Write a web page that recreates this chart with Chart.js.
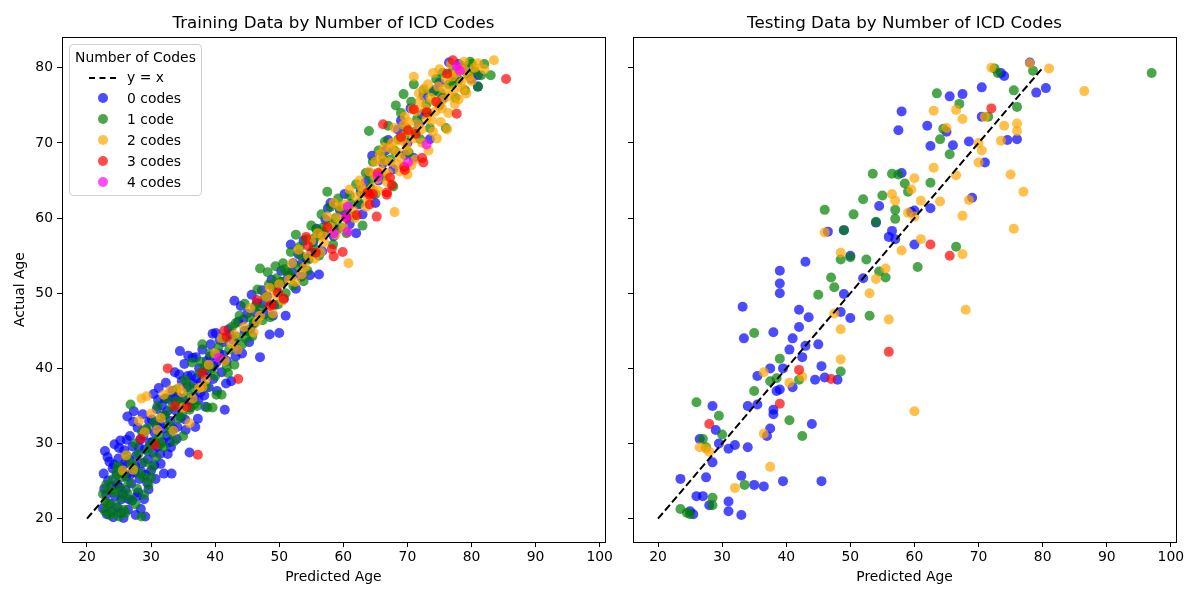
<!DOCTYPE html>
<html>
<head>
<meta charset="utf-8">
<script src="https://cdn.jsdelivr.net/npm/chart.js@4.4.1/dist/chart.umd.min.js"></script>
<style>
  body { margin: 0; background: #fff; width: 1200px; height: 600px; position: relative; overflow: hidden; font-family: "DejaVu Sans", sans-serif; color: #000; }
  .panel { position: absolute; top: 0; height: 600px; }
  #leftBox { left: 0; width: 615px; }
  #rightBox { left: 615px; width: 585px; }
  .title { position: absolute; top: 11px; font-size: 16.7px; line-height: 22px; text-align: center; white-space: nowrap; }
  .legend { position: absolute; left: 69px; top: 44px; width: 131px; height: 150px; border: 1px solid #d0d0d0; border-radius: 4px; background: rgba(255,255,255,0.8); font-size: 13.9px; }
  .legend div { position: absolute; white-space: nowrap; line-height: 16px; }
  .dot { width: 10px; height: 10px; border-radius: 50%; }
  .dash { height: 0; width: 27px; border-top: 2px dashed #000; }
</style>
</head>
<body>
<div class="panel" id="leftBox"><canvas id="trainChart" width="615" height="600"></canvas></div>
<div class="panel" id="rightBox"><canvas id="testChart" width="585" height="600"></canvas></div>
<div class="title" style="left:62px;width:543px">Training Data by Number of ICD Codes</div>
<div class="title" style="left:633px;width:543px">Testing Data by Number of ICD Codes</div>
<div class="legend" id="legend"></div>

<script>
// axes
const xTicks = [20, 30, 40, 50, 60, 70, 80, 90, 100];
const yTicks = [20, 30, 40, 50, 60, 70, 80];
const identityLine = [[20, 20], [80, 80]];

const codeLabels = ['0 codes', '1 code', '2 codes', '3 codes', '4 codes'];
const codeColors = ['rgba(0,0,255,0.7)', 'rgba(0,128,0,0.7)', 'rgba(255,165,0,0.7)', 'rgba(255,0,0,0.7)', 'rgba(255,0,255,0.7)'];

// training set, [predicted, actual]
const trainZero = [
  [22.5,21.4],[22.6,26.0],[22.8,29.0],[23.0,23.2],[23.1,20.6],[23.3,25.1],[23.5,27.6],[23.6,22.0],[23.8,24.3],[24.0,26.7],
  [24.1,20.2],[24.3,29.9],[24.4,23.0],[24.6,25.8],[24.8,21.5],[24.9,28.0],[25.1,24.2],[25.2,30.4],[25.4,22.6],[25.5,26.9],
  [25.7,20.1],[25.8,29.1],[26.0,23.8],[26.1,25.6],[26.3,33.6],[26.4,21.2],[26.6,27.8],[26.7,31.0],[26.9,24.7],[27.0,22.4],
  [27.1,29.6],[27.3,34.3],[27.4,26.2],[27.6,20.5],[27.7,28.4],[27.9,32.1],[28.0,23.5],[28.2,25.3],[28.3,30.5],[28.4,21.3],
  [28.6,27.4],[28.7,33.9],[28.9,22.6],[29.0,29.2],[29.2,25.8],[29.3,31.8],[29.5,27.9],[29.6,23.9],[29.8,30.1],[30.0,26.4],
  [30.1,33.2],[30.3,28.8],[30.4,36.6],[30.6,31.4],[30.7,25.3],[30.9,34.6],[31.0,29.6],[31.2,37.4],[31.4,32.6],[31.5,27.3],
  [31.7,35.1],[31.8,30.2],[32.0,26.0],[32.1,33.8],[32.3,38.1],[32.5,31.0],[32.6,28.6],[32.8,35.9],[33.0,33.0],[33.1,29.5],
  [33.3,37.0],[33.5,31.9],[33.7,39.5],[33.8,34.4],[34.0,30.6],[34.2,36.2],[34.5,42.3],[34.6,33.5],[34.8,38.3],[35.0,35.2],
  [35.2,40.6],[35.4,31.8],[35.6,37.5],[35.8,41.7],[36.0,28.8],[36.1,34.8],[36.3,39.1],[36.5,41.4],[36.7,36.2],[36.9,32.2],
  [37.1,38.7],[37.3,33.3],[37.5,40.0],[37.7,36.8],[38.0,42.5],[38.2,39.0],[38.5,34.9],[38.7,41.0],[39.0,37.5],[39.3,43.2],
  [39.6,44.6],[39.8,40.3],[40.1,44.7],[40.3,37.0],[40.6,42.0],[41.0,39.5],[41.3,43.5],[41.5,34.5],[41.8,41.0],[42.1,45.2],
  [42.5,38.3],[42.8,43.8],[43.0,49.0],[43.2,41.6],[43.6,46.2],[44.0,48.3],[44.2,42.0],[44.6,45.0],[45.0,47.3],[45.3,43.5],
  [45.7,49.8],[46.1,46.0],[46.5,48.7],[47.0,41.5],[47.3,50.4],[47.7,47.2],[48.1,49.6],[48.5,44.5],[48.8,51.8],[49.2,48.4],
  [49.6,50.7],[50.0,44.7],[50.3,53.0],[50.7,49.2],[51.0,47.0],[51.4,52.3],[51.8,56.5],[52.2,54.0],[52.6,50.6],[53.0,55.2],
  [53.4,52.2],[53.8,57.0],[54.3,54.6],[54.8,52.4],[55.3,56.8],[55.8,58.6],[56.2,52.5],[56.7,55.6],[57.2,59.8],[57.6,61.3],
  [58.0,62.0],[58.5,57.6],[59.0,58.5],[59.5,61.0],[60.2,63.2],[61.0,59.2],[62.0,58.0],[62.4,61.8],[63.0,60.5],[63.5,64.8],
  [64.0,66.0],[64.5,68.3],[65.0,62.0],[65.5,65.0],[66.2,67.3],[67.0,70.4],[67.8,66.5],[68.5,71.8],[69.0,73.0],[69.6,68.4],
  [70.0,70.0],[70.5,74.6],[71.0,68.0],[71.8,72.5],[72.5,76.3],[73.0,74.0],[73.5,70.5],[74.2,77.0],[75.0,78.0],[75.6,76.0],
  [76.5,80.7],[77.3,78.6],[78.0,80.5],[79.0,79.8],[80.0,78.5],[81.0,79.0],[81.0,77.5],
  [22.7,24.0],[23.2,28.2],[23.9,21.0],[24.2,27.2],[24.7,24.6],[25.0,29.4],[25.3,20.8],[25.6,23.3],[25.9,27.3],[26.2,30.5],
  [26.5,22.6],[26.8,25.9],[27.2,32.9],[27.5,27.0],[27.8,23.0],[28.1,29.5],[28.5,26.2],[28.8,31.0],[29.1,20.3],[29.4,24.8],
  [29.7,33.0],[30.2,30.2],[30.5,27.1],[30.8,32.4],[31.1,35.8],[31.4,28.6],[31.9,32.0],[32.2,36.0],[32.5,34.3],[32.9,30.2],
  [33.2,26.0],[33.6,36.1],[34.1,32.2],[34.4,39.2],[34.9,36.0],[35.3,33.2],[35.7,39.0],[36.2,35.6],[36.6,38.0],[37.0,41.5],
  [37.4,35.8],[37.8,38.2],[38.3,36.4],[38.8,39.8],[39.2,41.6],[39.7,38.6],[40.2,40.8],[40.7,43.8],[41.2,41.8],[41.7,38.0],
  [42.3,44.5],[43.4,42.6],[44.4,46.5],[45.5,45.2],[46.4,47.4],[47.5,48.6],[49.0,47.0],[50.5,51.5],[52.0,52.8],[53.6,54.0],
  [55.0,55.4],[56.5,57.8],[60.6,60.4],[62.7,63.6],[66.6,69.0],[72.2,73.8]
];
const trainOne = [
  [22.5,23.3],[22.8,21.0],[23.0,24.5],[23.3,22.0],[23.5,20.5],[24.0,25.2],[24.3,23.5],[24.5,21.8],[24.8,27.0],[25.0,20.3],
  [25.2,24.0],[25.5,22.8],[25.8,26.0],[26.0,20.8],[26.2,28.4],[26.5,24.8],[26.8,35.2],[27.0,22.5],[27.3,26.8],[27.5,30.0],
  [27.8,24.0],[28.0,28.6],[28.5,20.3],[28.6,31.5],[28.8,25.5],[29.0,27.5],[29.3,32.0],[29.6,24.5],[29.9,29.8],[30.2,26.9],
  [30.5,32.8],[30.8,28.2],[31.0,35.0],[31.3,31.0],[31.6,33.5],[32.0,29.5],[32.4,36.0],[32.8,32.5],[33.2,34.8],[33.6,30.3],
  [34.0,37.2],[34.3,33.3],[34.7,35.5],[35.0,31.0],[35.3,38.5],[35.7,36.5],[36.0,34.5],[36.4,40.8],[36.8,37.3],[37.2,35.0],
  [37.6,39.4],[38.0,43.2],[38.4,40.2],[38.8,34.8],[39.2,42.0],[39.6,34.8],[40.0,39.0],[40.2,36.5],[40.5,42.8],[41.0,36.5],
  [41.4,44.0],[41.8,40.2],[42.2,42.5],[42.6,45.5],[43.0,40.5],[43.4,44.2],[43.8,47.0],[44.2,43.2],[44.6,48.6],[45.0,45.0],
  [45.4,46.8],[45.8,44.3],[46.2,48.2],[46.6,50.5],[47.0,53.3],[47.4,46.4],[47.8,49.5],[48.2,52.8],[48.6,46.8],[49.0,50.8],
  [49.4,53.6],[49.8,48.5],[50.2,51.5],[50.6,54.0],[51.0,50.0],[51.4,52.8],[51.8,55.5],[52.2,51.0],[52.6,57.8],[53.0,53.5],
  [53.4,55.0],[53.8,51.6],[54.2,57.2],[54.6,54.5],[55.0,59.0],[55.4,56.0],[55.8,58.5],[56.2,55.0],[56.6,60.5],[57.0,58.2],
  [57.5,63.5],[58.0,61.5],[58.4,56.5],[58.8,60.0],[59.2,62.6],[59.6,58.8],[60.0,61.2],[60.5,58.0],[61.0,63.0],[61.5,60.3],
  [62.0,64.5],[62.5,62.0],[63.0,59.0],[63.5,66.0],[64.0,71.6],[64.2,64.0],[64.6,67.5],[65.0,63.2],[65.5,69.0],[66.0,65.5],
  [66.5,70.2],[67.0,72.3],[67.4,67.8],[67.8,64.2],[68.2,75.0],[68.6,70.5],[69.0,74.0],[69.4,76.5],[69.8,72.0],[70.2,68.7],
  [70.6,75.5],[71.0,77.8],[71.5,73.2],[72.0,70.5],[72.5,77.0],[73.0,75.2],[73.5,72.0],[74.0,76.8],[74.5,78.5],[75.0,75.0],
  [75.5,79.3],[76.0,72.0],[76.5,77.8],[77.0,79.5],[77.5,76.0],[78.0,78.4],[78.5,80.2],[79.0,77.0],[79.5,79.0],[80.0,80.5],
  [80.5,79.5],[81.0,77.5],[82.0,80.5],[83.0,79.0],
  [22.9,22.2],[23.7,23.8],[24.2,20.9],[24.6,26.2],[25.4,25.5],[25.7,21.2],[26.3,23.4],[26.9,27.4],[27.6,21.9],[28.2,26.0],
  [28.9,23.2],[29.5,29.0],[30.0,25.5],[30.6,30.2],[31.5,29.9],[32.2,33.8],[33.0,31.5],[33.9,35.6],[34.8,33.9],[35.8,37.8],
  [36.7,35.2],[37.8,40.9],[38.6,37.6],[39.4,40.0],[40.8,41.4],[42.0,39.4],[43.2,46.0],[44.8,44.0],[46.0,46.0],[47.2,48.0],
  [48.4,51.2],[49.6,52.0],[50.8,53.2],[51.9,52.2],[53.2,56.2],[54.4,53.0],[55.6,57.4],[56.9,58.8],[58.2,59.3],[59.4,61.4],
  [61.2,61.9],[62.8,63.3],[64.4,65.2],[66.2,68.0],[68.0,69.0],[69.6,70.8],[71.2,71.5],[73.2,74.0],[75.2,76.6],[77.2,78.0],
  [79.8,80.8],[81.5,79.0]
];
const trainTwo = [
  [25.6,26.4],[26.1,28.4],[27.2,26.5],[28.1,33.0],[28.5,36.0],[29.3,36.3],[30.0,34.0],[31.5,33.4],[32.0,36.5],[33.0,37.1],
  [33.5,31.7],[34.3,37.4],[35.0,34.8],[36.0,32.7],[36.5,36.0],[37.5,37.4],[38.5,38.5],[39.0,40.5],[40.0,42.0],[41.0,44.0],
  [41.5,41.0],[42.5,43.3],[43.5,42.5],[44.5,45.5],[45.5,48.0],[46.0,44.8],[47.0,47.0],[48.0,49.5],[48.5,50.7],[49.0,47.3],
  [50.0,51.2],[50.5,49.0],[51.5,51.8],[52.0,54.0],[53.0,55.8],[53.5,52.5],[54.0,53.5],[55.0,57.0],[55.5,54.6],[56.0,58.0],
  [56.5,55.5],[57.0,56.8],[57.5,60.2],[58.0,58.8],[58.5,62.0],[59.0,60.0],[59.5,61.5],[60.0,58.7],[60.8,54.0],[61.0,63.8],
  [61.5,61.0],[62.0,62.8],[62.5,65.0],[63.0,63.5],[63.5,61.5],[64.0,66.2],[64.5,64.0],[65.0,67.5],[65.3,65.2],[65.7,68.5],
  [66.0,66.3],[66.4,69.4],[66.8,64.8],[67.2,67.5],[67.6,70.0],[68.0,60.8],[68.0,72.0],[68.4,68.8],[68.8,66.2],[69.2,70.8],
  [69.6,73.5],[70.0,65.8],[70.0,69.0],[70.4,71.5],[70.8,74.5],[71.0,78.8],[71.2,67.8],[71.6,72.5],[72.0,75.5],[72.3,70.0],
  [72.6,77.2],[73.0,73.2],[73.3,69.0],[73.6,76.0],[74.0,79.3],[74.0,71.5],[74.4,74.2],[74.8,77.5],[75.2,72.8],[75.6,75.8],
  [76.0,78.5],[76.4,74.0],[76.8,80.5],[77.2,77.0],[77.6,79.3],[78.0,75.8],[78.4,78.0],[78.8,80.8],[79.2,76.6],[79.6,78.8],
  [80.5,80.0],[82.0,79.8],[83.5,81.0],
  [29.0,31.5],[31.0,31.8],[34.8,36.8],[38.0,37.5],[43.0,44.5],[46.5,46.2],[49.5,49.8],[52.5,51.5],[54.5,55.0],[56.8,57.6],
  [58.8,57.8],[60.3,61.8],[61.8,60.0],[62.8,64.2],[63.8,62.7],[64.8,65.8],[65.5,63.6],[66.2,67.6],[67.0,66.0],[67.4,69.3],
  [68.2,67.2],[68.6,70.3],[69.0,68.0],[69.4,72.4],[69.8,69.8],[70.2,72.8],[70.6,67.0],[71.0,70.6],[71.4,74.2],[71.8,76.6],
  [72.2,71.8],[72.8,74.6],[73.2,77.8],[73.8,73.0],[74.2,75.6],[74.6,70.6],[75.0,79.8],[75.4,74.6],[75.8,77.2],[76.2,71.8],
  [76.6,76.2],[77.0,78.8],[77.4,75.2],[78.2,79.8],[78.6,77.2],[79.0,79.6],[80.0,78.2],[81.0,80.6]
];
const trainThree = [
  [28.4,30.6],[30.6,29.8],[37.3,28.5],[33.7,35.0],[35.6,34.9],[32.6,40.0],[43.6,38.6],[38.0,39.4],[41.8,44.2],[41.4,45.0],
  [46.5,49.1],[48.9,48.5],[50.7,49.3],[49.8,50.1],[48.5,48.3],[54.5,56.3],[54.2,57.5],[58.2,55.9],[59.9,55.5],[58.5,54.9],
  [55.7,55.4],[57.5,58.8],[62.1,60.4],[65.2,60.2],[64.1,61.8],[63.8,63.4],[64.6,63.2],[66.8,63.4],[65.4,66.0],[67.3,65.4],
  [67.6,64.4],[69.6,66.4],[76.2,79.2],[77.1,81.0],[85.4,78.5],[73.0,74.1],[77.7,73.9],[70.1,71.7],[69.0,70.8],[71.3,71.2],
  [66.2,72.5],[72.3,68.0],[72.5,67.4],[69.5,66.8],[64.1,63.1],[66.8,63.1],[60.5,60.0],[71.0,74.5],[74.5,75.5]
];
const trainFour = [
  [40.6,41.4],[58.5,58.0],[60.7,58.2],[60.7,61.5],[60.4,60.2],[70.1,67.4],[77.7,80.2],[73.0,69.8],[65.4,65.5],[78.2,79.6]
];

// testing set, [predicted, actual]
const testZero = [
  [23.5,25.3],[25.0,21.0],[25.5,20.6],[26.0,23.0],[27.0,23.0],[26.5,30.6],[27.5,25.5],[28.0,21.8],[28.5,27.5],[28.5,35.0],
  [29.0,31.8],[29.5,30.0],[31.0,22.3],[31.0,21.0],[31.0,29.3],[32.0,29.8],[33.0,25.7],[33.0,20.5],[33.2,48.2],[33.4,44.0],
  [34.0,29.5],[34.0,35.0],[35.0,24.5],[35.5,39.0],[35.5,35.2],[36.5,24.3],[37.0,31.0],[37.5,40.0],[37.5,32.0],[38.0,44.8],
  [38.0,34.5],[38.0,33.9],[38.5,37.0],[39.0,53.0],[39.0,51.3],[39.0,50.0],[39.0,37.2],[39.5,25.0],[39.5,40.0],[40.5,42.5],
  [41.0,37.5],[41.0,44.0],[42.0,45.5],[42.0,47.8],[42.5,41.5],[43.0,43.0],[43.0,54.2],[43.5,46.8],[44.0,32.6],[44.5,38.5],
  [45.0,43.2],[45.5,25.0],[45.5,40.3],[46.0,38.8],[46.5,58.2],[48.0,38.5],[48.5,47.5],[49.0,49.9],[49.0,58.4],[50.0,55.0],
  [50.0,46.7],[52.0,52.0],[54.0,59.4],[54.5,61.6],[56.0,57.5],[56.5,58.3],[57.0,57.2],[57.5,71.7],[58.0,74.2],[58.0,66.0],
  [59.5,60.8],[60.0,56.5],[60.0,61.0],[62.0,72.3],[62.5,61.3],[62.5,69.6],[65.0,71.5],[65.5,76.2],[66.0,69.7],[67.5,76.5],
  [68.5,70.2],[69.0,62.7],[70.5,73.5],[70.5,77.4],[71.0,67.4],[73.5,79.3],[74.0,78.9],[74.5,70.4],[76.0,70.5],[78.0,80.7],
  [79.0,76.7],[80.5,77.3]
];
const testOne = [
  [23.5,21.3],[24.5,20.8],[25.0,20.6],[26.0,35.5],[27.0,30.6],[27.5,29.5],[28.5,22.8],[28.5,21.8],[29.5,33.7],[30.0,31.2],
  [33.5,24.5],[35.0,44.7],[35.0,37.0],[37.5,38.3],[38.5,38.7],[39.0,41.3],[40.5,33.1],[42.0,38.5],[42.5,31.0],[45.0,49.8],
  [46.0,61.1],[47.0,52.1],[47.5,50.8],[48.5,39.6],[48.5,54.5],[49.0,58.4],[50.0,54.8],[50.5,60.5],[52.0,62.5],[52.5,54.5],
  [53.0,47.0],[53.5,65.9],[54.0,59.5],[54.5,52.9],[55.0,63.0],[55.5,52.1],[56.5,65.9],[57.0,59.9],[57.0,61.1],[57.5,65.8],
  [58.5,64.6],[59.0,63.5],[60.5,53.5],[62.5,64.7],[63.5,76.6],[64.0,70.5],[64.5,71.9],[65.5,68.5],[66.5,56.2],[67.0,75.2],
  [71.5,73.5],[72.5,79.9],[73.0,79.3],[75.5,77.0],[76.0,74.8],[78.5,79.6],[97.0,79.3]
];
const testTwo = [
  [26.5,29.5],[27.5,29.3],[28.0,28.9],[32.0,24.1],[36.5,39.5],[36.5,31.3],[37.5,26.9],[40.5,38.1],[42.5,38.9],[46.0,58.1],
  [47.5,47.3],[48.5,55.4],[48.5,41.2],[48.5,45.2],[53.0,50.0],[54.0,51.9],[55.5,53.3],[56.0,46.5],[56.5,63.2],[57.0,62.3],
  [58.0,55.7],[59.0,60.7],[59.5,63.8],[60.0,65.3],[60.0,60.2],[60.0,34.3],[61.0,57.2],[61.0,62.3],[63.0,74.3],[63.0,66.7],
  [64.0,62.2],[65.0,72.0],[66.5,65.7],[66.5,74.4],[67.5,60.3],[67.5,55.2],[67.5,73.2],[68.0,47.8],[68.5,62.4],[70.0,70.0],
  [70.0,67.4],[70.5,69.0],[71.0,73.5],[72.0,80.0],[73.5,70.3],[74.0,72.3],[75.0,65.8],[75.5,58.6],[76.0,71.6],[76.0,72.6],
  [77.0,63.5],[78.0,80.6],[81.0,79.9],[86.5,76.9]
];
const testThree = [
  [28.0,32.6],[39.0,35.3],[42.0,39.8],[47.0,38.6],[56.0,42.2],[62.5,56.5],[65.5,55.0],[72.0,74.6]
];

const toPoints = arr => arr.map(([x, y]) => ({ x, y }));

function scatterSet(pairs, idx) {
  return {
    label: codeLabels[idx],
    data: toPoints(pairs),
    backgroundColor: codeColors[idx],
    borderWidth: 0,
    pointRadius: 5,
    pointHoverRadius: 5,
    order: 5 - idx
  };
}

// outer frame (top and right spines)
const framePlugin = {
  id: 'frame',
  afterDraw(chart) {
    const a = chart.chartArea, ctx = chart.ctx;
    ctx.save();
    ctx.strokeStyle = '#000';
    ctx.lineWidth = 1;
    ctx.strokeRect(Math.round(a.left) + 0.5, Math.round(a.top) + 0.5, Math.round(a.right - a.left), Math.round(a.bottom - a.top));
    ctx.restore();
  }
};

function makePanel(canvasId, sets, showYLabels, yWidth, rightPad) {
  const ctx = document.getElementById(canvasId).getContext('2d');
  const datasets = sets.map(([pairs, idx]) => scatterSet(pairs, idx));
  datasets.push({
    label: 'y = x',
    data: toPoints(identityLine),
    showLine: true,
    borderColor: '#000',
    borderWidth: 2,
    borderDash: [7.5, 3.3],
    pointRadius: 0,
    order: 0
  });
  return new Chart(ctx, {
    type: 'scatter',
    data: { datasets },
    options: {
      responsive: false,
      animation: false,
      layout: { padding: { top: 37, right: rightPad, left: 0, bottom: 0 } },
      plugins: { legend: { display: false }, tooltip: { enabled: false }, title: { display: false } },
      scales: {
        x: {
          type: 'linear',
          min: 16.1,
          max: 100.8,
          afterBuildTicks: s => { s.ticks = xTicks.map(v => ({ value: v })); },
          afterFit: s => { s.height = 58; },
          ticks: { color: '#000', font: { size: 13.9 }, padding: 2, maxRotation: 0 },
          grid: { drawOnChartArea: false, drawTicks: true, tickLength: 5, color: '#000' },
          border: { display: true, color: '#000', width: 1 },
          title: { display: true, text: 'Predicted Age', color: '#000', font: { size: 13.9 }, padding: { top: 0, bottom: 14 } }
        },
        y: {
          type: 'linear',
          min: 16.9,
          max: 84.1,
          afterBuildTicks: s => { s.ticks = yTicks.map(v => ({ value: v })); },
          afterFit: s => { s.width = yWidth; },
          ticks: {
            color: '#000', font: { size: 13.9 }, padding: 4,
            callback: v => showYLabels ? v : ''
          },
          grid: { drawOnChartArea: false, drawTicks: true, tickLength: 5, color: '#000' },
          border: { display: true, color: '#000', width: 1 },
          title: { display: showYLabels, text: 'Actual Age', color: '#000', font: { size: 13.9 }, padding: { top: 12, bottom: 0 } }
        }
      }
    },
    plugins: [framePlugin]
  });
}

Chart.defaults.font.family = '"DejaVu Sans", sans-serif';

makePanel('trainChart', [[trainZero, 0], [trainOne, 1], [trainTwo, 2], [trainThree, 3], [trainFour, 4]], true, 62, 10);
makePanel('testChart', [[testZero, 0], [testOne, 1], [testTwo, 2], [testThree, 3]], false, 18, 24);

// legend box (training panel only)
const legend = document.getElementById('legend');
let html = '<div style="left:0;width:131px;text-align:center;top:4px">Number of Codes</div>';
html += '<div class="dash" style="left:19px;top:32px"></div><div style="left:57px;top:24px">y = x</div>';
codeLabels.forEach((label, i) => {
  const top = 45 + i * 21;
  html += `<div class="dot" style="left:28px;top:${top + 3}px;background:${codeColors[i]}"></div>`;
  html += `<div style="left:57px;top:${top}px">${label}</div>`;
});
legend.innerHTML = html;
</script>
</body>
</html>
